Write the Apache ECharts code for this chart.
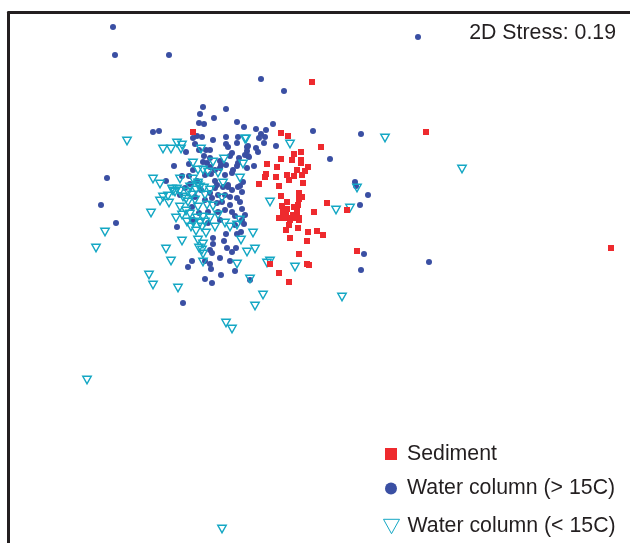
<!DOCTYPE html>
<html><head><meta charset="utf-8">
<style>html,body{margin:0;padding:0;background:#fff}#c{width:630px;height:543px}</style>
<script src="https://cdn.jsdelivr.net/npm/echarts@6/dist/echarts.min.js"></script>
</head><body><div id="c"></div>
<script>
const seriesNames = ['Sediment','Water column (> 15C)','Water column (< 15C)'];
const stressLabel = '2D Stress: 0.19';
const sediment = [[281,133],[288,136],[321,147],[294,154],[301,152],[292,160],[301,160],[301,163],[281,159],[267,164],[277,167],[308,167],[297,170],[305,171],[266,174],[265,177],[276,177],[287,175],[294,176],[302,175],[289,180],[303,183],[259,184],[279,186],[299,193],[281,196],[302,197],[299,199],[287,202],[327,203],[314,212],[347,210],[282,206],[283,210],[287,209],[294,207],[298,205],[297,210],[283,213],[286,215],[293,215],[297,215],[279,218],[284,218],[290,218],[295,218],[299,218],[290,220],[299,220],[289,225],[286,230],[298,228],[290,238],[308,232],[317,231],[323,235],[307,241],[299,254],[357,251],[307,264],[309,265],[270,264],[279,273],[289,282],[312,82],[426,132],[611,248],[193,132]];
const waterWarm = [[203,107],[226,109],[200,114],[214,118],[199,123],[204,124],[237,122],[244,127],[153,132],[159,131],[193,138],[197,136],[202,137],[226,137],[238,137],[213,140],[195,144],[237,143],[226,144],[228,147],[247,147],[186,152],[199,150],[206,150],[210,150],[247,151],[232,153],[230,156],[245,155],[248,156],[204,156],[210,158],[239,158],[174,166],[189,164],[207,163],[203,162],[220,161],[221,165],[238,163],[237,166],[247,168],[193,170],[210,167],[220,168],[233,170],[232,173],[211,174],[225,175],[166,181],[243,182],[197,181],[190,184],[215,181],[217,185],[223,187],[228,187],[238,187],[185,188],[215,188],[240,186],[228,185],[180,195],[195,197],[205,200],[210,193],[217,203],[222,202],[230,205],[237,198],[230,197],[240,202],[242,192],[192,207],[208,212],[220,220],[235,216],[245,215],[242,220],[235,225],[208,223],[193,220],[177,227],[226,234],[237,234],[241,232],[213,238],[224,241],[213,244],[227,248],[236,248],[232,252],[210,250],[212,253],[220,258],[230,261],[192,261],[205,261],[210,264],[188,267],[211,269],[235,271],[221,275],[205,279],[256,129],[266,130],[273,124],[261,134],[259,138],[265,137],[264,143],[313,131],[276,146],[248,146],[256,148],[258,152],[249,157],[330,159],[254,166],[242,209],[244,224],[113,27],[115,55],[169,55],[418,37],[261,79],[284,91],[361,134],[107,178],[101,205],[116,223],[355,182],[356,186],[368,195],[360,205],[364,254],[361,270],[429,262],[212,283],[183,303],[250,280],[225,195],[232,190],[218,195],[201,190],[212,198],[225,210],[218,212],[232,212],[199,213],[215,170],[226,165],[205,175],[189,176],[182,176]];
const waterCold = [[177,143],[182,145],[163,149],[171,149],[181,149],[201,149],[246,139],[193,163],[213,162],[224,159],[243,164],[198,170],[203,170],[208,172],[218,173],[153,179],[160,184],[180,179],[193,179],[240,178],[223,183],[198,183],[200,187],[172,189],[177,189],[173,191],[180,191],[188,192],[192,195],[163,197],[168,196],[160,201],[169,203],[188,202],[205,195],[198,185],[222,198],[151,213],[180,207],[186,211],[182,215],[198,207],[213,206],[176,218],[197,218],[203,217],[218,215],[240,220],[193,222],[200,223],[191,227],[196,231],[202,227],[215,227],[225,223],[230,227],[237,225],[206,233],[241,240],[182,241],[198,240],[203,244],[199,248],[166,249],[202,250],[203,254],[247,252],[171,261],[203,262],[237,264],[149,275],[245,139],[290,144],[357,188],[270,202],[336,210],[350,208],[253,233],[255,249],[270,261],[267,263],[295,267],[250,279],[263,295],[342,297],[127,141],[385,138],[462,169],[96,248],[105,232],[153,285],[178,288],[255,306],[226,323],[232,329],[87,380],[222,529],[175,192],[183,197],[190,187],[196,190],[186,199],[204,188],[210,190],[195,200],[207,205],[190,214],[205,222],[210,218],[187,222]];

const triangle = 'path://M0 0L10 0L5 9Z';
const textStyle = {fontFamily:'Liberation Sans',fontSize:21.3,color:'#231f20'};
const chart = echarts.init(document.getElementById('c'),null,{renderer:'canvas'});
const legendAt = (name,left,top,size,pad) => ({show:true,data:[name],left,top,itemWidth:size,itemHeight:size,
  itemGap:0,padding:0,textStyle:{...textStyle,padding:[0,0,0,pad]},selectedMode:false,itemStyle:{borderWidth:1}});
chart.setOption({
  animation:false,backgroundColor:'#fff',
  title:{text:stressLabel,right:14,top:23,padding:0,textStyle:{...textStyle,fontWeight:'normal'}},
  legend:[legendAt(seriesNames[0],385,443.5,12,5),legendAt(seriesNames[1],385,478,12,5),legendAt(seriesNames[2],383,516,16,3)],
  grid:{left:8.5,top:12.5,right:0,bottom:0},
  xAxis:{type:'value',position:'top',min:8.5,max:630,axisLine:{show:true,onZero:false,lineStyle:{color:'#231f20',width:3}},axisTick:{show:false},axisLabel:{show:false},splitLine:{show:false}},
  yAxis:{type:'value',inverse:true,min:12.5,max:543,axisLine:{show:true,onZero:false,lineStyle:{color:'#231f20',width:3}},axisTick:{show:false},axisLabel:{show:false},splitLine:{show:false}},
  series:[
    {name:seriesNames[1],type:'scatter',data:waterWarm,symbol:'circle',symbolSize:6,itemStyle:{color:'#3a4fa3',opacity:1},z:2},
    {name:seriesNames[2],type:'scatter',data:waterCold,symbol:triangle,symbolSize:[8.5,7.5],itemStyle:{color:'rgba(255,255,255,0)',borderColor:'#14a7c4',borderWidth:1.4,opacity:1},z:3},
    {name:seriesNames[0],type:'scatter',data:sediment,symbol:'rect',symbolSize:6,itemStyle:{color:'#ee2a2e',opacity:1},z:4}
  ]
});
</script></body></html>
